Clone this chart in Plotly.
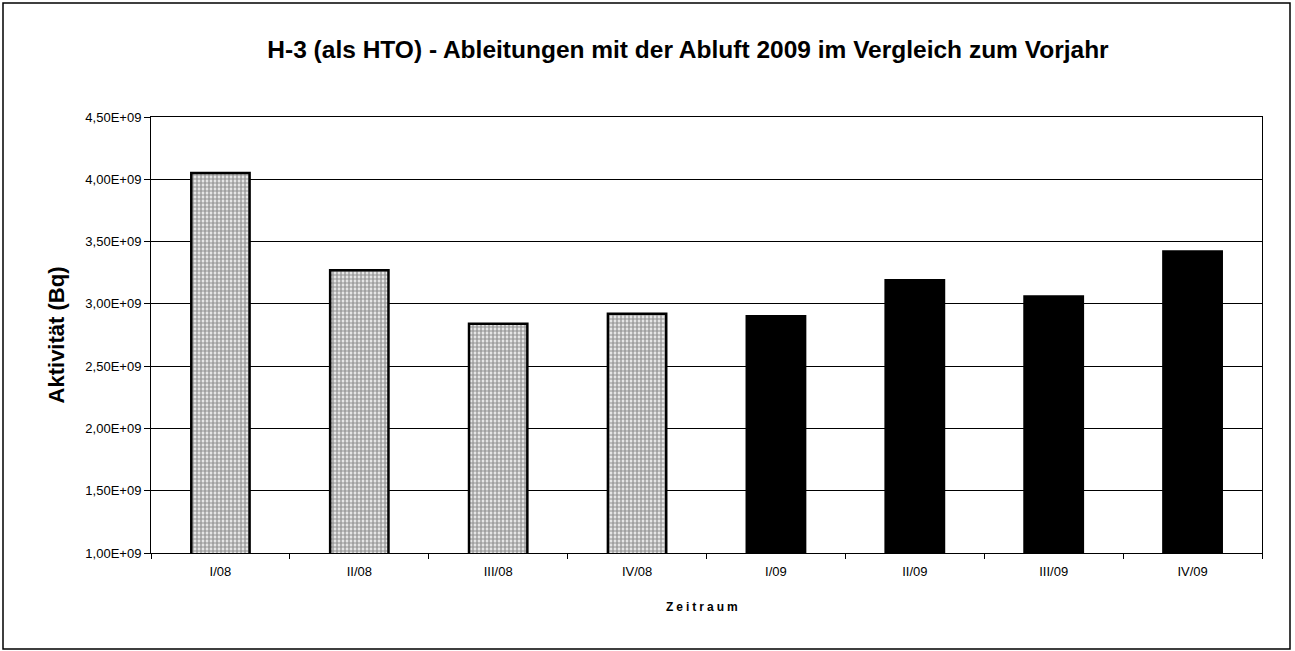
import plotly.graph_objects as go

categories = ["I/08", "II/08", "III/08", "IV/08", "I/09", "II/09", "III/09", "IV/09"]
values = [4.05e9, 3.27e9, 2.84e9, 2.92e9, 2.90e9, 3.19e9, 3.06e9, 3.42e9]
years = ["2008", "2008", "2008", "2008", "2009", "2009", "2009", "2009"]
ytick_vals = [1.0e9, 1.5e9, 2.0e9, 2.5e9, 3.0e9, 3.5e9, 4.0e9, 4.5e9]
ytick_text = ["1,00E+09", "1,50E+09", "2,00E+09", "2,50E+09", "3,00E+09", "3,50E+09", "4,00E+09", "4,50E+09"]

W, H = 1295, 651
L, R, T, B = 151, 33, 117, 98
pw, ph = W - L - R, H - T - B

def px_x(x):
    return (x - L) / pw

def px_y(y):
    return (H - B - y) / ph

fig = go.Figure()
fig.add_trace(go.Bar(
    x=categories,
    y=values,
    base=0,
    width=0.42,
    marker=dict(
        color=["white" if yr == "2008" else "black" for yr in years],
        line=dict(color="black", width=2.5),
        pattern=dict(
            shape=["." if yr == "2008" else "" for yr in years],
            fgcolor="black", bgcolor="white", size=4, solidity=0.7,
        ),
    ),
    showlegend=False,
))

font_family = "Liberation Sans, Arial, sans-serif"
fig.update_layout(
    width=W, height=H,
    margin=dict(l=L, r=R, t=T, b=B),
    paper_bgcolor="white", plot_bgcolor="white",
    font=dict(family=font_family, color="black", size=13),
    title=dict(
        text="<b>H-3 (als HTO) - Ableitungen mit der Abluft 2009 im Vergleich zum Vorjahr</b>",
        x=px_x(688), xref="paper", xanchor="center",
        y=1 - 49 / H, yanchor="middle",
        font=dict(size=24.5, family=font_family, color="black"),
    ),
    xaxis=dict(
        showline=True, linecolor="black", linewidth=1, mirror=True,
        ticks="outside", tickson="boundaries", ticklen=5, tickcolor="black",
        tickfont=dict(size=13),
        ticklabelstandoff=6,
        showgrid=False,
    ),
    yaxis=dict(
        range=[1.0e9, 4.5e9],
        tickvals=ytick_vals, ticktext=ytick_text,
        showline=True, linecolor="black", linewidth=1, mirror=True,
        ticks="outside", ticklen=6, tickcolor="black",
        tickfont=dict(size=13),
        showgrid=True, gridcolor="black", gridwidth=1,
        title=dict(text="<b>Aktivität (Bq)</b>", font=dict(size=22), standoff=14),
        zeroline=False,
    ),
)

fig.add_annotation(
    text='<b><span style="letter-spacing:3px">Zeitraum</span></b>',
    xref="paper", yref="paper", x=px_x(703), y=px_y(607),
    xanchor="center", yanchor="middle", showarrow=False,
    font=dict(size=12, family=font_family, color="black"),
)

fig.add_shape(
    type="rect", xref="paper", yref="paper",
    x0=px_x(3), x1=px_x(1290), y0=px_y(649), y1=px_y(3),
    line=dict(color="black", width=1.5), fillcolor="rgba(0,0,0,0)", layer="below",
)

fig.write_html(
    "out.html",
    config={"displayModeBar": False},
    post_script="document.body.style.margin='0';document.body.style.overflow='hidden';",
)
